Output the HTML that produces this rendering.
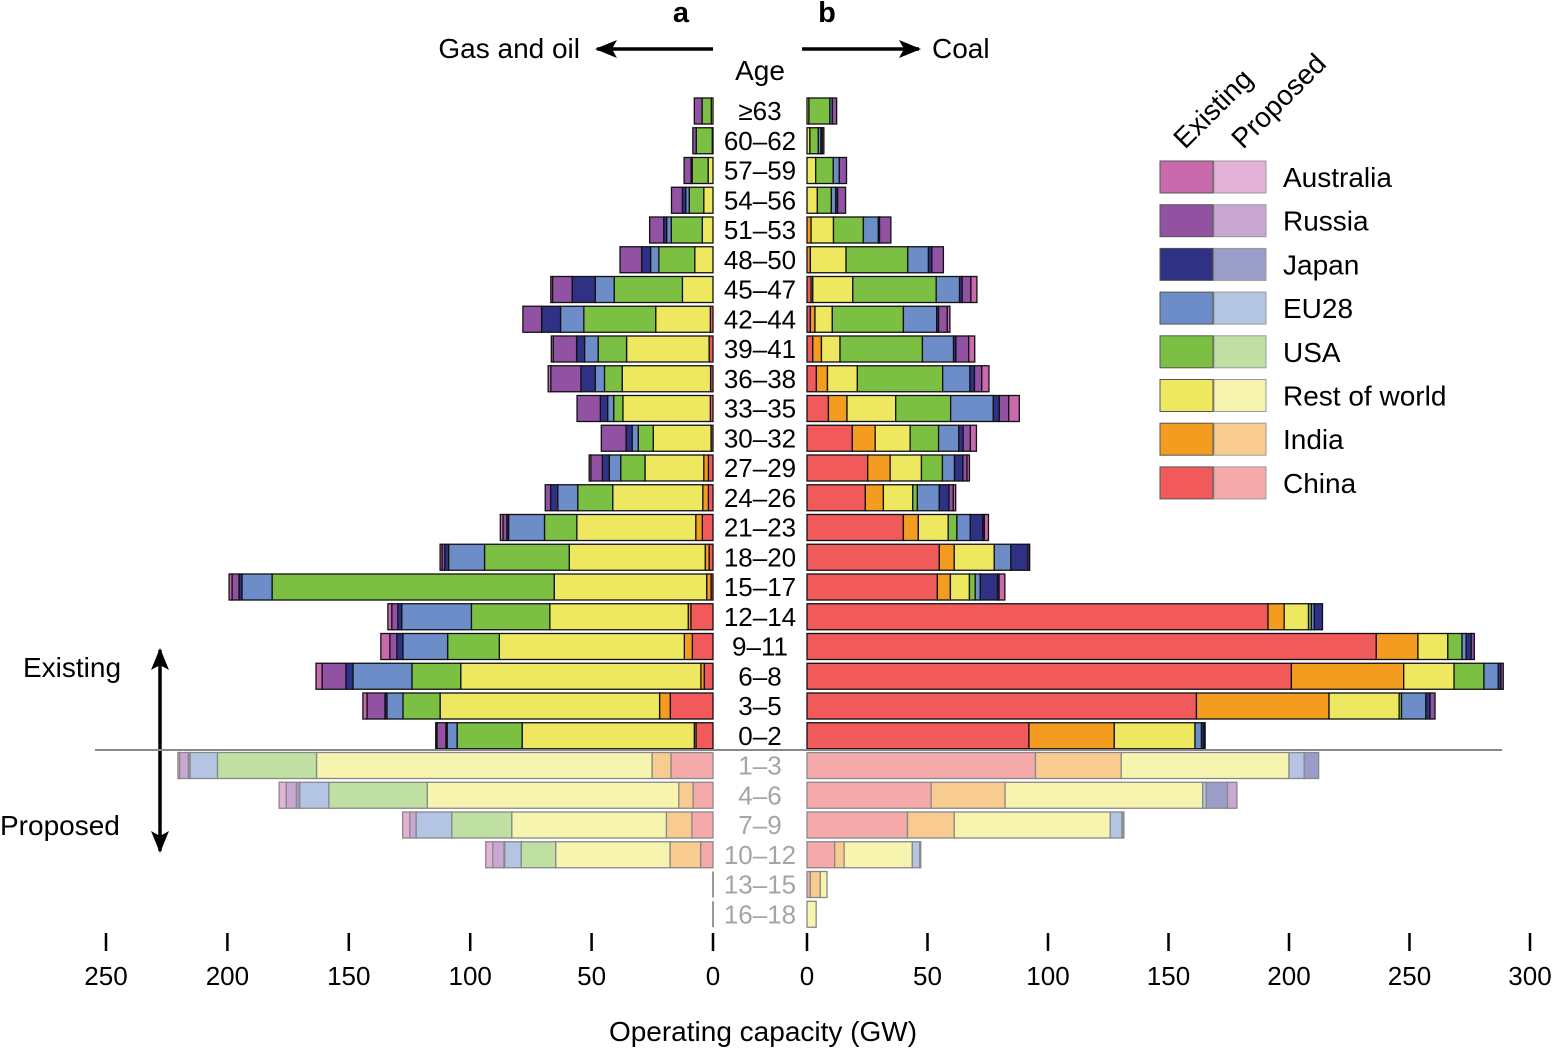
<!DOCTYPE html>
<html><head><meta charset="utf-8"><style>
html,body{margin:0;padding:0;background:#fff}
svg{display:block;font-family:"Liberation Sans",Arial,sans-serif}
</style></head><body>
<svg id="chart" width="1552" height="1049" viewBox="0 0 1552 1049" xmlns="http://www.w3.org/2000/svg">
<defs><marker id="ah" markerWidth="22" markerHeight="18" refX="20" refY="9" orient="auto" markerUnits="userSpaceOnUse"><path d="M0,0 L22,9 L0,18 L5,9 Z" fill="#000"/></marker></defs>
<text x="681" y="22" font-size="29" font-weight="bold" text-anchor="middle">a</text>
<text x="827" y="22" font-size="29" font-weight="bold" text-anchor="middle">b</text>
<text x="580" y="58" font-size="28" text-anchor="end">Gas and oil</text>
<text x="932" y="58" font-size="28">Coal</text>
<line x1="713" y1="49" x2="597" y2="49" stroke="#000" stroke-width="3.5" marker-end="url(#ah)"/>
<line x1="802" y1="49" x2="919" y2="49" stroke="#000" stroke-width="3.5" marker-end="url(#ah)"/>
<text x="760" y="80" font-size="28" text-anchor="middle">Age</text>
<text x="23" y="677" font-size="28">Existing</text>
<text x="0" y="835" font-size="28">Proposed</text>
<line x1="160" y1="700" x2="160" y2="650" stroke="#000" stroke-width="3.5" marker-end="url(#ah)"/>
<line x1="160" y1="700" x2="160" y2="851" stroke="#000" stroke-width="3.5" marker-end="url(#ah)"/>
<text transform="translate(1185,150) rotate(-45)" font-size="28">Existing</text>
<text transform="translate(1243,150) rotate(-45)" font-size="28">Proposed</text>
<text x="763" y="1041" font-size="28" text-anchor="middle">Operating capacity (GW)</text>
<g id="bars"></g><g id="labels"></g><g id="axes"></g><g id="legend"></g>
</svg>
<script>
const ageLabels=["≥63","60–62","57–59","54–56","51–53","48–50","45–47","42–44","39–41","36–38","33–35","30–32","27–29","24–26","21–23","18–20","15–17","12–14","9–11","6–8","3–5","0–2","1–3","4–6","7–9","10–12","13–15","16–18"];
const countries=["China","India","Rest of world","USA","EU28","Japan","Russia","Australia"];
const leftChina=[0,0,0,0,0,0,0,1.1,1.6,1,1.1,0.8,1.9,1.9,4.4,1.6,0.8,9.1,8.5,3.6,17.6,7,17.3,8.2,8.7,5.1,0,0];
const leftIndia=[0,0,0,0,0,0,0,0,0,0,0,0,1.9,2.3,2.7,1.6,1.8,1.1,3.3,1.4,4.4,0.7,7.8,5.9,10.5,12.6,0,0];
const leftRow=[0.7,0.3,2,3.8,4.4,7.5,12.6,22.5,34,36.4,36,23.8,24.2,37.1,49,56,62.8,57,76.2,98.9,90.4,70.9,138.2,103.6,63.7,47.1,0,0];
const leftUsa=[3.8,6.6,6.6,6,12.8,14.8,28.1,29.6,11.7,7.3,3.8,6.2,10,14.4,13.3,34.9,116.2,32.3,21.3,20.1,15.3,26.8,40.8,40.5,24.7,14.2,0,0];
const leftEu=[0,0,0,1.4,1.9,3.4,7.8,9.6,5.6,3.8,2.5,2.5,4.7,8.2,14.8,14.8,12.4,28.7,18.4,24.3,6.6,4.1,11.3,12,14.7,6.8,0,0];
const leftJapan=[0,0,0.4,1.4,1.2,3.7,9.5,7.8,3.3,5.9,3,2.5,2.9,3,0.7,1.6,1.2,1.6,2.5,2.9,0.8,0.5,0.7,1.4,0,0.3,0,0];
const leftRussia=[3.2,1.4,2.9,4.5,5.8,8.9,8.1,7.7,9.6,12.4,9.6,10.2,4.7,2.2,1.6,1.1,2.9,2.5,2.9,9.8,7.4,3.7,3.6,4.2,2.6,4.6,0,0];
const leftAus=[0,0,0,0,0,0,0.7,0,0.8,1.1,0,0,0.7,0,1.1,0.8,1.2,1.6,3.7,2.5,1.7,0.5,0.7,2.9,2.9,2.9,0,0];
const rightChina=[0,0,0,0,0,0,1.7,1.4,2.4,3.9,8.9,18.8,25.2,24.2,40,54.9,54.1,191.3,236.2,201,161.6,92.1,94.8,51.5,41.7,11.5,1.4,0];
const rightIndia=[0,0,0,0,1.7,1.4,0.7,1.9,3.6,4.6,7.7,9.5,9.3,7.5,6.2,6.2,5.4,6.7,17.3,46.6,55,35.4,35.6,30.7,19.4,3.9,4.1,0];
const rightRow=[0.8,1.2,3.6,4.3,9.3,14.8,16.6,7.2,7.7,12.4,20.2,14.5,13,12.2,12.4,16.6,7.9,10.1,12.4,20.9,29.1,33.5,69.6,82,64.7,28.3,2.8,3.8];
const rightUsa=[8.7,3.5,7.3,5.8,12.4,25.6,34.6,29.5,34.2,35.4,22.8,11.8,8.7,1.9,3.6,0,2.4,1.2,5.9,12.4,1,0,0,0,0,0,0,0];
const rightEu=[1,1.1,2.5,1.8,6.2,8.6,9.7,13.8,12.9,11.3,17.7,8.4,5,9.1,5.5,6.9,2.1,1.2,1.7,5.9,10.1,2.7,6.3,1.5,4.9,3.1,0,0];
const rightJapan=[0,0.5,0,0.8,0.5,1.4,1.1,0.8,1,1.9,2.5,1.8,3.5,4,5.3,7.1,7.2,3.4,2.1,1.1,1.7,1,6,8.8,0.8,0.4,0,0];
const rightRussia=[1.8,0.7,3,3.3,4.7,4.8,3.6,3.6,5.3,3,3.9,3,1.7,1.8,0.6,0.7,0.6,0,1.3,1,2.1,0.5,0,3.9,0,0,0,0];
const rightAus=[0,0,0,0,0,0,2.5,1.1,2.5,3,4.4,2.5,1,1,1.7,0,2.4,0,0,0,0,0,0,0,0,0,0,0];
const leftTicks=[0,50,100,150,200,250];
const rightTicks=[0,50,100,150,200,250,300];
const existingColors=["#F05A5A","#F49C1F","#EDE860","#7CC043","#6C8DC8","#2E3184","#9152A4","#C96AAD"];
const proposedColors=["#F4AAAA","#F8CC90","#F7F4B0","#BFE0A2","#B3C5E3","#9A9DC7","#C8A8D2","#E3B2D6"];
const NS="http://www.w3.org/2000/svg";
function xL(v){return 713-v*607/250;}
function xR(v){return 807+v*723/300;}
function rowTop(i){return 98+i*29.75;}
const nExisting=22;
const leftSeries=[leftChina,leftIndia,leftRow,leftUsa,leftEu,leftJapan,leftRussia,leftAus];
const rightSeries=[rightChina,rightIndia,rightRow,rightUsa,rightEu,rightJapan,rightRussia,rightAus];
const bars=document.getElementById('bars');
function mk(tag,attrs,parent){const e=document.createElementNS(NS,tag);for(const k in attrs)e.setAttribute(k,attrs[k]);parent.appendChild(e);return e;}
for(let i=0;i<ageLabels.length;i++){
  const prop=i>=nExisting;const cols=prop?proposedColors:existingColors;const stroke=prop?"#888":"#111";
  const y=rowTop(i);
  [[leftSeries,xL,'left'],[rightSeries,xR,'right']].forEach(([series,sc,side])=>{
    let cum=0,tot=0;series.forEach(s=>tot+=s[i]);
    if(tot===0){const l=mk('line',{x1:sc(0),x2:sc(0),y1:y,y2:y+26,stroke:"#999","stroke-width":2},bars);
      
      return;}
    series.forEach((s,c)=>{const v=s[i];if(v<=0)return;
      const a=sc(cum),b=sc(cum+v);cum+=v;
      const r=mk('rect',{x:Math.min(a,b),y:y,width:Math.abs(b-a),height:26,fill:cols[c],stroke:stroke,"stroke-width":1.3},bars);
      
      
    });
  });
  const t=mk('text',{x:760,y:y+22,"font-size":26,"text-anchor":"middle",fill:prop?"#a5a5a5":"#000"},document.getElementById('labels'));
  t.textContent=ageLabels[i];
  
  
}
const div=mk('line',{x1:95,x2:1502,y1:750,y2:750,stroke:"#888","stroke-width":2},bars);


const axes=document.getElementById('axes');
leftTicks.forEach(v=>{const l=mk('line',{x1:xL(v),x2:xL(v),y1:933,y2:951,stroke:"#000","stroke-width":2.5},axes);
  
  
  const t=mk('text',{x:xL(v),y:985,"font-size":26,"text-anchor":"middle"},axes);t.textContent=v;
  
  });
rightTicks.forEach(v=>{const l=mk('line',{x1:xR(v),x2:xR(v),y1:933,y2:951,stroke:"#000","stroke-width":2.5},axes);
  
  
  const t=mk('text',{x:xR(v),y:985,"font-size":26,"text-anchor":"middle"},axes);t.textContent=v;
  
  });
const legendOrder=["Australia","Russia","Japan","EU28","USA","Rest of world","India","China"];
const lg=document.getElementById('legend');
legendOrder.forEach((name,k)=>{const c=countries.indexOf(name);const yc=177+k*43.7;
  const a=mk('rect',{x:1160,y:yc-16,width:53,height:32,fill:existingColors[c],stroke:"#555","stroke-width":1},lg);
  
  
  const b=mk('rect',{x:1214,y:yc-16,width:52,height:32,fill:proposedColors[c],stroke:"#999","stroke-width":1},lg);
  
  
  const t=mk('text',{x:1283,y:yc+10,"font-size":28},lg);t.textContent=name;
  
  });
</script>
</body></html>
